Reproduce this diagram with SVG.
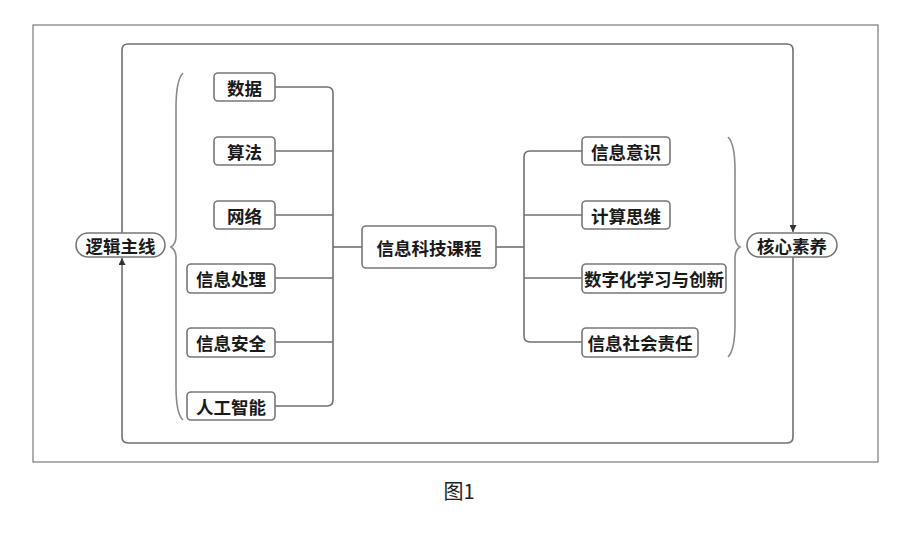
<svg xmlns="http://www.w3.org/2000/svg" width="900" height="535" viewBox="0 0 900 535">
<style>
.frame{fill:none;stroke:#7a7a7a;stroke-width:1.2}
.box{fill:#fff;stroke:#777;stroke-width:1.6}
.ln{fill:none;stroke:#707070;stroke-width:1.6}
.br{fill:none;stroke:#8a8a8a;stroke-width:1.6}
.t{font-family:"Noto Sans CJK SC","Noto Sans",sans-serif;font-weight:bold;font-size:17.5px;fill:#1a1a1a;text-anchor:middle;dominant-baseline:central}
.cap{font-family:"Noto Sans CJK SC","Noto Sans",sans-serif;font-size:20px;fill:#222;text-anchor:middle;dominant-baseline:central}
</style>
<defs>
<marker id="arr" viewBox="0 0 10 10" refX="10" refY="5" markerWidth="7" markerHeight="7" orient="auto" markerUnits="userSpaceOnUse">
<path d="M0,0 L10,5 L0,10 z" fill="#333"/>
</marker>
</defs>
<rect width="900" height="535" fill="#fff"/>
<rect class="frame" x="33" y="25" width="845" height="437"/>
<g id="connectors">
<path class="ln" d="M122,233 V50 Q122,44 128,44 H787 Q793,44 793,50 V232" marker-end="url(#arr)"/>
<path class="ln" d="M793,257 V437 Q793,443 787,443 H128 Q122,443 122,437 V258" marker-end="url(#arr)"/>
<path class="ln" d="M275,87 H327 Q333,87 333,93 V400 Q333,406 327,406 H275"/>
<path class="ln" d="M275,151 H333"/>
<path class="ln" d="M275,215 H333"/>
<path class="ln" d="M275,278 H333"/>
<path class="ln" d="M275,342 H333"/>
<path class="ln" d="M333,247 H362"/>
<path class="ln" d="M496,247 H524"/>
<path class="ln" d="M582,151 H530 Q524,151 524,157 V336 Q524,342 530,342 H582"/>
<path class="ln" d="M524,215 H582"/>
<path class="ln" d="M524,278 H582"/>
<path class="br" d="M183,73 Q176,80 176,108 V236 Q176,244 171,247 Q176,250 176,258 V386 Q176,414 183,420"/>
<path class="br" d="M728,137 Q735,144 735,170 V236 Q735,244 740,247 Q735,250 735,258 V324 Q735,350 728,357"/>
</g>
<g id="n-luoji"><rect class="box" x="76" y="233" width="89" height="24" rx="12"/><text class="t" x="120.5" y="245.5">逻辑主线</text></g>
<g id="n-shuju"><rect class="box" x="214" y="73" width="61" height="28" rx="4"/><text class="t" x="244.5" y="87">数据</text></g>
<g id="n-suanfa"><rect class="box" x="214" y="137" width="61" height="28" rx="4"/><text class="t" x="244.5" y="151">算法</text></g>
<g id="n-wangluo"><rect class="box" x="214" y="201" width="61" height="28" rx="4"/><text class="t" x="244.5" y="215">网络</text></g>
<g id="n-chuli"><rect class="box" x="187" y="264" width="88" height="29" rx="4"/><text class="t" x="231" y="278.5">信息处理</text></g>
<g id="n-anquan"><rect class="box" x="187" y="328" width="88" height="29" rx="4"/><text class="t" x="231" y="342.5">信息安全</text></g>
<g id="n-ai"><rect class="box" x="187" y="392" width="88" height="28" rx="4"/><text class="t" x="231" y="406">人工智能</text></g>
<g id="n-center"><rect class="box" x="362" y="226" width="134" height="42" rx="4"/><text class="t" x="429" y="247">信息科技课程</text></g>
<g id="n-yishi"><rect class="box" x="582" y="137" width="88" height="28" rx="4"/><text class="t" x="626" y="151">信息意识</text></g>
<g id="n-siwei"><rect class="box" x="582" y="201" width="88" height="28" rx="4"/><text class="t" x="626" y="215">计算思维</text></g>
<g id="n-shuzihua"><rect class="box" x="582" y="264" width="144" height="29" rx="4"/><text class="t" x="654" y="278.5">数字化学习与创新</text></g>
<g id="n-zeren"><rect class="box" x="582" y="328" width="116" height="29" rx="4"/><text class="t" x="640" y="342.5">信息社会责任</text></g>
<g id="n-hexin"><rect class="box" x="747" y="233" width="90" height="24" rx="12"/><text class="t" x="792" y="245.5">核心素养</text></g>
<text class="cap" x="459" y="490">图1</text>
</svg>
